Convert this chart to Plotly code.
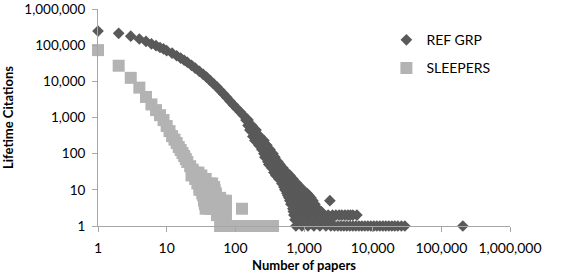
import plotly.graph_objects as go

# Axis ticks
X_TICKS = [1, 10, 100, 1000, 10000, 100000, 1000000]
X_LABELS = ["1", "10", "100", "1,000", "10,000", "100,000", "1,000,000"]
Y_TICKS = [1, 10, 100, 1000, 10000, 100000, 1000000]
Y_LABELS = ["1", "10", "100", "1,000", "10,000", "100,000", "1,000,000"]

# REF GRP: top (single curve) part
REF_TOP_X = [1, 2, 3, 4, 5, 6, 7, 8, 9, 10, 12, 14, 16, 18, 20, 23, 26, 30, 34, 38,
             43, 48, 54, 60, 67, 75, 84, 94, 105, 118, 130, 145]
REF_TOP_Y = [245000, 212000, 177000, 148000, 127000, 109000, 96900, 86300, 78500, 70500,
             60100, 50900, 44000, 38300, 33700, 27700, 23300, 18800, 15600, 13100,
             10500, 8640, 7000, 5640, 4520, 3590, 2800, 2230, 1780, 1420, 1160, 933]

# REF GRP: lower (spread) part, citation level -> number of papers
REF_BAND_Y = [850, 600, 450, 300, 230, 170, 130, 100, 80, 60, 50, 40, 30, 25, 20, 15,
              12, 10, 8, 7, 6, 5, 4, 3, 2.5, 2, 1.5, 1]
REF_BAND_X = [
    [143, 153],
    [153, 165, 174],
    [163, 180, 200],
    [180, 200, 228],
    [193, 221, 261],
    [221, 252, 288],
    [244, 270, 319],
    [261, 298, 353],
    [270, 319, 377],
    [298, 353, 417],
    [308, 365, 446],
    [341, 417, 493],
    [365, 431, 493, 564],
    [390, 461, 527, 623],
    [431, 510, 603, 689],
    [477, 564, 667, 788],
    [510, 603, 737, 872],
    [527, 623, 737, 843, 964],
    [564, 667, 788, 932, 1102],
    [583, 689, 815, 964, 1178],
    [603, 713, 872, 1031, 1260],
    [623, 737, 872, 1031, 1178, 1348, 2382],
    [645, 762, 902, 1066, 1260, 1441],
    [689, 815, 964, 1140, 1348, 1594],
    [700, 850, 1020, 1230, 1480, 1780],
    [713, 820, 950, 1100, 1270, 1470, 1700, 1949, 2250, 2600, 2913, 3250, 3562, 3950,
     4355, 4750, 5150, 5890],
    [740, 900, 1100, 1350, 1650, 2000, 2400],
    [762, 932, 1140, 1394, 1704, 2084, 2464, 2780, 3114, 3450, 3808, 4200, 4658, 5150,
     5695, 6300, 6963, 7700, 8515, 9400, 10410, 11500, 12730, 14100, 15560, 17200, 19030,
     21000, 23270, 26200, 29420, 205600],
]

# SLEEPERS: top (single curve) part
SLP_TOP_X = [1, 2, 3, 4, 5, 6, 7, 8, 9, 10, 11, 12, 13, 14, 15, 16, 17, 18, 19, 20, 22, 24]
SLP_TOP_Y = [73000, 27000, 12500, 6700, 3700, 2300, 1600, 1160, 850, 580, 420, 306,
             245, 196, 152, 126, 104, 86, 71, 59, 45, 36]

# SLEEPERS: lower part
SLP_BAND_Y = [30, 25, 20, 15, 12, 10, 8, 7, 6, 5, 4, 3, 2, 1]
SLP_BAND_X = [
    [26, 29],
    [23, 27, 32],
    [26, 31, 37],
    [28, 32, 37, 42, 46],
    [30, 34, 39, 44, 49],
    [30, 35, 40, 45, 50],
    [33, 38, 44, 52],
    [34, 39, 45, 52],
    [35, 40, 46, 53, 60],
    [35, 40, 46, 53, 60, 66, 73],
    [36, 41, 47, 53, 60, 66, 73],
    [37, 42, 48, 54, 60, 66, 73, 125],
    [54, 60, 66, 73],
    [60, 70, 83, 99, 117, 138, 163, 193, 228, 270, 319, 353],
]


def flatten(top_x, top_y, band_y, band_x):
    xs, ys = list(top_x), list(top_y)
    for yv, row in zip(band_y, band_x):
        for xv in row:
            xs.append(xv)
            ys.append(yv)
    return xs, ys


ref_x, ref_y = flatten(REF_TOP_X, REF_TOP_Y, REF_BAND_Y, REF_BAND_X)
slp_x, slp_y = flatten(SLP_TOP_X, SLP_TOP_Y, SLP_BAND_Y, SLP_BAND_X)

FONT = "Lato, 'Open Sans', sans-serif"
AXIS_GRAY = "#a6a6a6"

fig = go.Figure()
fig.add_trace(go.Scatter(
    x=ref_x, y=ref_y, mode="markers", name="REF GRP", legendgroup="ref",
    cliponaxis=False,
    marker=dict(symbol="diamond", size=9, color="#595959", line=dict(width=0)),
))
fig.add_trace(go.Scatter(
    x=slp_x, y=slp_y, mode="markers", name="SLEEPERS", legendgroup="slp",
    cliponaxis=False,
    marker=dict(symbol="square", size=12, color="#b3b3b3", line=dict(width=0)),
))

axis_common = dict(
    type="log", range=[0, 6], showgrid=False, zeroline=False, automargin=False,
    showline=True, linecolor=AXIS_GRAY, linewidth=1,
    ticks="outside", ticklen=5, tickcolor=AXIS_GRAY, tickwidth=1,
)

fig.update_layout(
    width=568, height=280,
    margin=dict(l=98, r=58, t=9, b=54),
    paper_bgcolor="white", plot_bgcolor="white",
    font=dict(family=FONT, size=13, color="#000000"),
    xaxis=dict(**axis_common, tickvals=X_TICKS, ticktext=X_LABELS,
               tickfont=dict(family=FONT, size=14, color="#000000"),
               ticklabelstandoff=4,
               title=dict(text="<b>Number of papers</b>", font=dict(size=13), standoff=6)),
    yaxis=dict(**axis_common, tickvals=Y_TICKS, ticktext=Y_LABELS,
               tickfont=dict(family=FONT, size=13.5, color="#000000"),
               ticklabelstandoff=4,
               title=dict(text="<b>Lifetime Citations</b>", font=dict(size=13), standoff=8)),
    legend=dict(x=0.70, y=0.93, xanchor="left", yanchor="top",
                bgcolor="rgba(0,0,0,0)", font=dict(size=14),
                tracegroupgap=7, traceorder="grouped"),
    showlegend=True,
)

fig.write_html("out.html")
